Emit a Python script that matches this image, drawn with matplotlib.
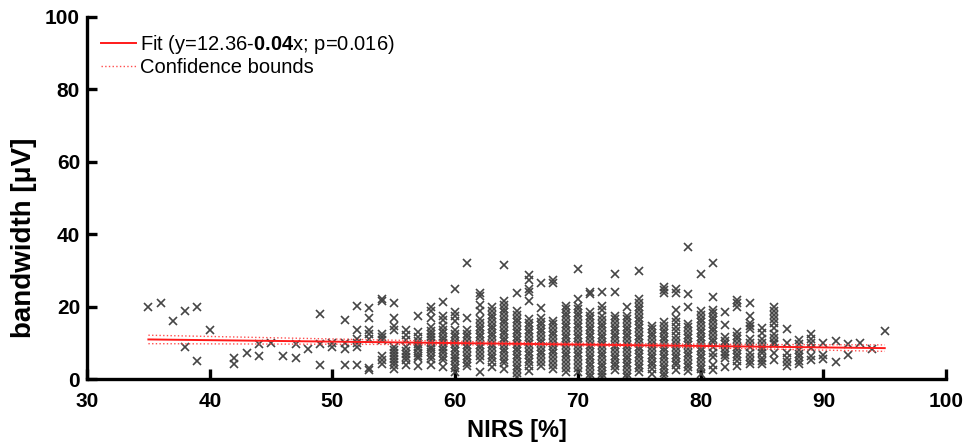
import numpy as np
import matplotlib
matplotlib.use("Agg")
import matplotlib.pyplot as plt

# NIRS value of each column of points and the bandwidth values read in it
nirs_cols = [35, 36, 37, 38, 39, 40, 42, 43, 44, 45, 46, 47, 48, 49, 50,
             51, 52, 53, 54, 55, 56, 57, 58, 59, 60, 61, 62, 63, 64, 65,
             66, 67, 68, 69, 70, 71, 72, 73, 74, 75, 76, 77, 78, 79, 80,
             81, 82, 83, 84, 85, 86, 87, 88, 89, 90, 91, 92, 93, 94, 95]

bandwidth_cols = [
    [20.0],
    [21.1],
    [16.1],
    [18.9, 8.9],
    [20.0, 5.0],
    [13.7],
    [5.7, 4.2],
    [7.3],
    [9.7, 6.4],
    [9.9],
    [6.4],
    [9.7, 5.8],
    [8.4],
    [18.0, 9.7, 3.8],
    [9.9, 8.9],
    [16.3, 9.9, 8.4, 3.8],
    [20.2, 13.5, 11.1, 9.9, 8.9, 3.8],
    [19.6, 17.0, 13.5, 12.4, 11.1, 3.0, 2.5],
    [22.0, 21.6, 12.4, 11.7, 10.8, 6.4, 5.2, 4.1],
    [20.9, 17.0, 14.6, 13.5, 8.9, 8.0, 7.2, 6.4, 5.5, 4.7, 3.8, 2.9],
    [13.5, 12.1, 10.8, 8.9, 7.9, 7.0, 6.0, 5.2, 3.8],
    [17.4, 13.0, 11.5, 10.6, 9.8, 9.0, 8.2, 7.3, 6.5, 5.7, 3.6],
    [20.0, 18.9, 17.0, 14.5, 13.4, 12.5, 11.6, 10.8, 9.9, 9.0, 8.2, 7.4, 6.5, 5.6, 3.8],
    [21.4, 17.3, 16.2, 14.6, 13.5, 12.6, 11.7, 10.8, 9.9, 9.0, 8.1, 7.2, 6.2, 5.2, 3.4],
    [24.8, 18.6, 17.4, 16.1, 13.5, 12.5, 11.6, 10.6, 9.7, 8.7, 7.8, 6.8, 5.9, 4.9, 3.9, 3.0, 2.0],
    [32.1, 16.8, 13.5, 12.5, 11.5, 10.5, 9.5, 8.5, 7.5, 6.5, 5.5, 4.5, 3.5],
    [23.8, 22.9, 20.4, 18.7, 16.5, 15.5, 14.5, 13.5, 12.5, 11.5, 10.5, 9.5, 8.5, 7.5, 6.5, 5.2, 2.0],
    [19.8, 18.8, 17.8, 16.8, 15.8, 14.8, 13.8, 12.8, 11.8, 10.8, 9.8, 8.8, 7.8, 6.8, 5.8, 4.8, 3.4],
    [31.6, 21.6, 20.4, 19.4, 18.4, 17.4, 16.4, 15.4, 14.4, 13.4, 12.4, 11.4, 10.4, 9.4, 8.4, 7.4, 6.4, 5.4, 4.4, 2.9],
    [23.8, 18.7, 17.7, 16.7, 15.7, 14.7, 13.7, 12.7, 11.7, 10.7, 9.7, 8.7, 7.7, 6.7, 5.7, 4.7, 3.7, 2.7, 1.7, 0.6],
    [28.7, 27.5, 24.8, 24.1, 21.5, 16.6, 15.6, 14.6, 13.6, 12.6, 11.6, 10.6, 9.6, 8.6, 7.6, 6.6, 5.6, 4.6, 3.5, 2.3],
    [26.6, 19.7, 16.9, 15.9, 14.9, 13.9, 12.9, 11.9, 10.9, 9.9, 8.9, 7.9, 6.9, 5.9, 4.8, 3.7],
    [27.5, 26.6, 16.1, 15.1, 14.1, 13.1, 12.1, 11.1, 10.1, 9.1, 8.1, 7.1, 6.1, 5.1, 4.0, 2.9],
    [20.3, 19.3, 18.3, 17.3, 16.3, 15.3, 14.3, 13.3, 12.3, 11.3, 10.3, 9.3, 8.3, 7.3, 6.3, 5.3, 4.2, 3.1, 2.1],
    [30.3, 22.1, 20.3, 19.3, 18.3, 17.3, 16.3, 15.3, 14.3, 13.3, 12.3, 11.3, 10.3, 9.3, 8.3, 7.3, 6.3, 5.3, 4.2, 3.1, 2.1],
    [24.1, 23.6, 18.5, 17.5, 16.5, 15.5, 14.5, 13.5, 12.5, 11.5, 10.5, 9.5, 8.5, 7.5, 6.5, 5.5, 4.5, 3.5, 2.5, 1.5, 0.5],
    [24.1, 20.3, 19.0, 17.3, 16.3, 15.3, 14.3, 13.3, 12.3, 11.3, 10.3, 9.3, 8.3, 7.3, 6.3, 5.3, 4.3, 3.3, 2.3, 1.3, 0.5],
    [29.0, 24.1, 17.5, 16.5, 15.5, 14.5, 13.5, 12.5, 11.5, 10.5, 9.5, 8.5, 7.5, 6.5, 5.5, 4.5, 3.5, 2.5],
    [19.8, 17.5, 16.5, 15.5, 14.5, 13.5, 12.5, 11.5, 10.5, 9.5, 8.5, 7.5, 6.5, 5.5, 4.5, 3.5, 2.5, 1.5, 0.6],
    [29.8, 22.0, 21.0, 20.0, 19.0, 18.0, 17.0, 16.0, 15.0, 14.0, 13.0, 12.0, 11.0, 10.0, 9.0, 8.0, 7.0, 6.0, 5.0, 4.0, 3.0, 2.0],
    [14.8, 13.8, 12.8, 11.8, 10.8, 9.8, 8.8, 7.8, 6.8, 5.8, 4.8, 3.8, 2.8, 1.5],
    [25.5, 24.5, 23.7, 15.7, 14.7, 13.7, 12.7, 11.7, 10.7, 9.7, 8.7, 7.7, 6.7, 5.7, 4.7, 3.7, 2.7, 1.7, 1.0],
    [24.9, 23.7, 19.2, 16.8, 15.7, 14.5, 13.3, 12.0, 10.8, 9.8, 8.8, 7.8, 6.8, 5.8, 4.8, 3.8, 2.6],
    [36.4, 23.4, 19.8, 15.3, 14.3, 13.3, 12.3, 11.3, 10.3, 9.3, 8.3, 7.3, 6.3, 5.3, 4.3, 3.3, 2.3],
    [28.9, 18.7, 17.7, 16.7, 15.7, 14.7, 13.7, 12.7, 11.7, 10.7, 9.7, 8.7, 7.7, 6.7, 5.7, 4.7, 3.7, 2.7, 1.5],
    [32.1, 22.6, 19.2, 18.2, 17.2, 16.2, 15.2, 14.2, 13.2, 12.2, 11.2, 10.2, 8.9, 7.2, 6.0, 4.0, 2.5],
    [18.6, 15.0, 11.6, 10.6, 9.6, 8.6, 7.6, 6.6, 5.7, 3.4],
    [21.8, 20.9, 19.9, 13.0, 12.0, 11.0, 10.0, 9.0, 8.0, 7.0, 6.0, 5.0, 3.7],
    [20.9, 17.4, 15.6, 14.7, 13.8, 11.0, 10.0, 9.0, 7.3, 6.0, 5.0, 4.2],
    [14.0, 12.8, 11.0, 10.0, 9.0, 8.0, 7.1, 5.8, 5.0, 4.1],
    [19.9, 18.8, 17.7, 16.5, 15.4, 14.1, 12.5, 11.3, 10.2, 9.6, 7.1, 5.2],
    [13.8, 10.1, 7.1, 5.8, 4.6, 3.5],
    [10.8, 9.6, 8.0, 7.0, 6.0, 5.0, 4.2],
    [12.5, 11.1, 10.0, 8.7, 6.4, 5.2],
    [9.9, 6.8, 5.6],
    [10.4, 4.6],
    [9.8, 6.8],
    [9.9],
    [8.3],
    [13.4],
]

# fit from the legend
fit_intercept = 12.36
fit_slope = -0.04
fit_label = r"Fit (y=12.36-$\mathbf{0.04}$x; p=0.016)"
# band width factor, chosen so the bounds match the picture
band_factor = 1.35

xticks = [30, 40, 50, 60, 70, 80, 90, 100]
yticks = [0, 20, 40, 60, 80, 100]

plt.rcParams["font.family"] = ["Liberation Sans", "DejaVu Sans"]
plt.rcParams["mathtext.fontset"] = "custom"
plt.rcParams["mathtext.rm"] = "Liberation Sans"
plt.rcParams["mathtext.bf"] = "Liberation Sans:bold"

nirs = np.concatenate([[c] * len(v) for c, v in zip(nirs_cols, bandwidth_cols)])
bandwidth = np.concatenate(bandwidth_cols)

fig = plt.figure(figsize=(9.68, 4.45), dpi=100)
ax = fig.add_axes([0.0899, 0.148, 0.8875, 0.814])

ax.plot(nirs, bandwidth, "x", color="#454545", markersize=5.3, markeredgewidth=1.2,
        zorder=2)

# fitted line and confidence band of the mean
xf = np.linspace(min(nirs_cols), max(nirs_cols), 200)
yf = fit_intercept + fit_slope * xf
resid = bandwidth - (fit_intercept + fit_slope * nirs)
s = np.sqrt(np.sum(resid ** 2) / (len(nirs) - 2))
xm = nirs.mean()
sxx = np.sum((nirs - xm) ** 2)
half = band_factor * s * np.sqrt(1 / len(nirs) + (xf - xm) ** 2 / sxx)

ax.plot(xf, yf, "-", color="#ff1a1a", lw=1.4, label=fit_label, zorder=3)
ax.plot(xf, yf + half, ":", color="#ff4d4d", lw=1.0, label="Confidence bounds", zorder=3)
ax.plot(xf, yf - half, ":", color="#ff4d4d", lw=1.0, zorder=3)

ax.set_xlim(30, 100)
ax.set_ylim(0, 100)
ax.set_xticks(xticks)
ax.set_yticks(yticks)

for side in ["top", "right"]:
    ax.spines[side].set_visible(False)
for side in ["left", "bottom"]:
    ax.spines[side].set_linewidth(2.4)

ax.tick_params(direction="in", length=7, width=2.4)
ax.tick_params(axis="x", pad=9)
ax.tick_params(axis="y", pad=5)
for lab in ax.get_yticklabels() + ax.get_xticklabels():
    lab.set_fontsize(15)
    lab.set_fontweight("bold")

ax.set_xlabel("NIRS [%]", fontsize=17, fontweight="bold", labelpad=6)
ax.set_ylabel("bandwidth [\u03bcV]", fontsize=20, fontweight="bold")
ax.yaxis.set_label_coords(-0.058, 0.39)

ax.legend(loc="upper left", frameon=False, fontsize=14.5, handlelength=1.75,
          handletextpad=0.2, labelspacing=0.12, borderaxespad=0.3,
          bbox_to_anchor=(0.0, 0.995))

fig.savefig("out.png", dpi=100)
